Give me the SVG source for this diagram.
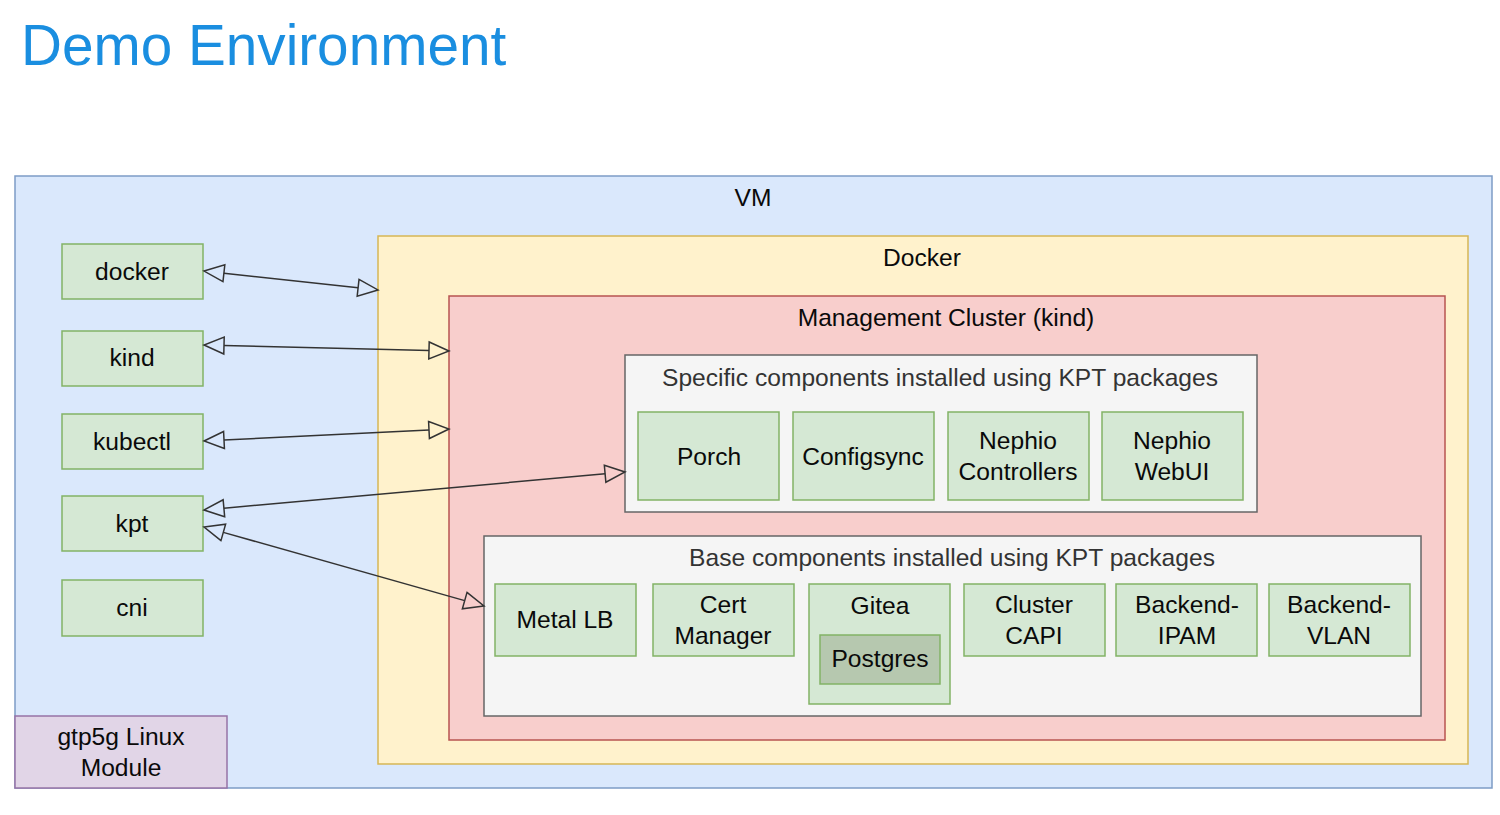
<svg xmlns="http://www.w3.org/2000/svg" width="1500" height="815" viewBox="0 0 1500 815">
<style>
text{font-family:"Liberation Sans",Arial,sans-serif;font-size:24.6px;fill:#0a0a0a;text-anchor:middle}
.title{font-size:56.7px;fill:#1a8ee0;text-anchor:start}
.grey{fill:#333}
.comp{fill:#d5e8d4;stroke:#82b366;stroke-width:1.5}
.pg{fill:#b6c8af;stroke:#82b366;stroke-width:1.5}
.cont{fill:#f5f5f5;stroke:#666;stroke-width:1.5}
.conn{fill:none;stroke:#333;stroke-width:1.5;marker-start:url(#ah);marker-end:url(#ah)}
</style>
<defs>
<marker id="ah" markerUnits="userSpaceOnUse" markerWidth="24" markerHeight="20" viewBox="-2 -10 24 20" refX="0" refY="0" orient="auto-start-reverse" overflow="visible">
<path d="M0,-8.5 L20,0 L0,8.5 Z" fill="none" stroke="#333" stroke-width="1.5" stroke-linejoin="miter"/>
</marker>
</defs>
<rect width="1500" height="815" fill="#ffffff"/>
<text class="title" x="21" y="65">Demo Environment</text>

<g id="vm">
<rect x="15" y="176" width="1477" height="612" fill="#dae8fc" stroke="#7d9cc6" stroke-width="1.5"/>
<text x="753" y="206">VM</text>
</g>
<g id="gtp5g">
<rect x="15" y="716" width="212" height="72" fill="#e1d5e7" stroke="#9673a6" stroke-width="1.5"/>
<text x="121" y="745">gtp5g Linux</text>
<text x="121" y="776">Module</text>
</g>
<g id="docker-tool"><rect class="comp" x="62" y="244" width="141" height="55"/><text x="132" y="280">docker</text></g>
<g id="kind-tool"><rect class="comp" x="62" y="331" width="141" height="55"/><text x="132" y="366">kind</text></g>
<g id="kubectl-tool"><rect class="comp" x="62" y="414" width="141" height="55"/><text x="132" y="450">kubectl</text></g>
<g id="kpt-tool"><rect class="comp" x="62" y="496" width="141" height="55"/><text x="132" y="532">kpt</text></g>
<g id="cni-tool"><rect class="comp" x="62" y="580" width="141" height="56"/><text x="132" y="616">cni</text></g>

<g id="docker">
<rect x="378" y="236" width="1090" height="528" fill="#fff2cc" stroke="#d6b656" stroke-width="1.5"/>
<text x="922" y="266">Docker</text>
</g>
<g id="mgmt-cluster">
<rect x="449" y="296" width="996" height="444" fill="#f8cecc" stroke="#b85450" stroke-width="1.5"/>
<text x="946" y="326">Management Cluster (kind)</text>
</g>
<g id="specific">
<rect class="cont" x="625" y="355" width="632" height="157"/>
<text class="grey" x="940" y="386">Specific components installed using KPT packages</text>
</g>
<g id="porch"><rect class="comp" x="638" y="412" width="141" height="88"/><text x="709" y="465">Porch</text></g>
<g id="configsync"><rect class="comp" x="793" y="412" width="141" height="88"/><text x="863" y="465">Configsync</text></g>
<g id="nephio-controllers"><rect class="comp" x="948" y="412" width="141" height="88"/><text x="1018" y="449">Nephio</text><text x="1018" y="480">Controllers</text></g>
<g id="nephio-webui"><rect class="comp" x="1102" y="412" width="141" height="88"/><text x="1172" y="449">Nephio</text><text x="1172" y="480">WebUI</text></g>

<g id="base">
<rect class="cont" x="484" y="536" width="937" height="180"/>
<text class="grey" x="952" y="566">Base components installed using KPT packages</text>
</g>
<g id="metallb"><rect class="comp" x="495" y="584" width="141" height="72"/><text x="565" y="628">Metal LB</text></g>
<g id="cert-manager"><rect class="comp" x="653" y="584" width="141" height="72"/><text x="723" y="613">Cert</text><text x="723" y="644">Manager</text></g>
<g id="gitea"><rect class="comp" x="809" y="584" width="141" height="120"/><text x="880" y="614">Gitea</text></g>
<g id="postgres"><rect class="pg" x="820" y="635" width="120" height="49"/><text x="880" y="667">Postgres</text></g>
<g id="cluster-capi"><rect class="comp" x="964" y="584" width="141" height="72"/><text x="1034" y="613">Cluster</text><text x="1034" y="644">CAPI</text></g>
<g id="backend-ipam"><rect class="comp" x="1116" y="584" width="141" height="72"/><text x="1187" y="613">Backend-</text><text x="1187" y="644">IPAM</text></g>
<g id="backend-vlan"><rect class="comp" x="1269" y="584" width="141" height="72"/><text x="1339" y="613">Backend-</text><text x="1339" y="644">VLAN</text></g>

<g id="connectors">
<line class="conn" x1="223.9" y1="273.2" x2="358.1" y2="287.8"/>
<line class="conn" x1="224" y1="345.5" x2="429" y2="350.5"/>
<line class="conn" x1="224" y1="440" x2="429" y2="430"/>
<line class="conn" x1="223.9" y1="508.2" x2="605.1" y2="473.8"/>
<line class="conn" x1="223.3" y1="532.4" x2="464.7" y2="600.6"/>
</g>
</svg>
